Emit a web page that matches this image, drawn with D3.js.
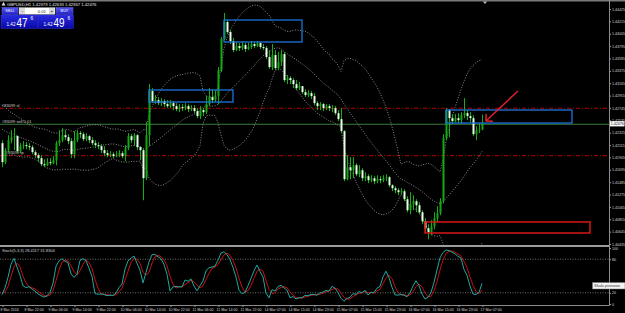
<!DOCTYPE html>
<html><head><meta charset="utf-8">
<script src="https://cdn.jsdelivr.net/npm/d3@7"></script>
<style>html,body{margin:0;padding:0;background:#000;overflow:hidden}svg{display:block}text{font-family:"Liberation Sans",Arial,sans-serif}</style>
</head><body><svg id="c" width="625" height="313"></svg>
<script>
// ---------- DATA ----------
const symbol = "GBPUSD,H1";
const headerValues = ["1.42379", "1.42633", "1.42367", "1.42476"];
const bidPrice = 1.42476, askPrice = 1.42496;
const lotSize = "0.01";
const preBars = 20; // bars scrolled off to the left, used only by the indicators
const closes = [
1.42572,1.42674,1.42708,1.42623,1.42538,1.42589,1.42504,1.42453,1.42521,1.42436,1.42368,1.42402,1.42317,1.42351,1.42283,1.42232,1.42300,1.42215,1.42181,1.42147,
1.41824,1.42028,1.42198,1.42249,1.42266,1.42011,1.42096,1.42113,1.42096,1.42079,
1.41994,1.41943,1.41892,1.41790,1.41773,1.41824,1.41807,1.41858,1.42147,1.42198,
1.42283,1.42249,1.42181,1.41960,1.42198,1.42317,1.42300,1.42215,1.42266,1.42198,
1.42147,1.42113,1.42096,1.42028,1.41977,1.41943,1.41960,1.41926,1.41943,1.41977,
1.41926,1.42062,1.42266,1.42198,1.42283,1.42079,1.42028,1.41552,1.42283,1.43031,
1.42861,1.42878,1.42827,1.42861,1.42810,1.42776,1.42827,1.42776,1.42725,1.42759,
1.42742,1.42776,1.42725,1.42742,1.42691,1.42606,1.42708,1.42674,1.42810,1.42929,
1.42878,1.42946,1.43388,1.43915,1.44204,1.44034,1.43881,1.43728,1.43796,1.43762,
1.43813,1.43745,1.43779,1.43830,1.43796,1.43847,1.43779,1.43762,1.43609,1.43439,
1.43643,1.43422,1.43524,1.43660,1.43218,1.43252,1.43218,1.43150,1.43082,1.43116,
1.43014,1.42963,1.42997,1.42946,1.42827,1.42776,1.42810,1.42742,1.42776,1.42742,
1.42742,1.42657,1.42555,1.42351,1.41535,1.41739,1.41688,1.41773,1.41620,1.41688,
1.41552,1.41586,1.41518,1.41552,1.41501,1.41535,1.41518,1.41552,1.41569,1.41433,
1.41382,1.41348,1.41314,1.41331,1.41195,1.41008,1.41110,1.41161,1.41093,1.40974,
1.40821,1.40702,1.40634,1.40736,1.40872,1.40957,1.41161,1.42232,1.42708,1.42572,
1.42521,1.42572,1.42538,1.42623,1.42657,1.42606,1.42572,1.42300,1.42368,1.42379,1.42476];
const highs = [
1.42640,1.42725,1.42776,1.42742,1.42657,1.42640,1.42606,1.42555,1.42572,1.42538,1.42470,1.42453,1.42436,1.42402,1.42385,1.42334,1.42351,1.42334,1.42266,1.42232,
1.42198,1.42062,1.42283,1.42368,1.42402,1.42283,1.42147,1.42181,1.42164,1.42147,
1.42113,1.42028,1.41977,1.41943,1.41875,1.41892,1.41892,1.41926,1.42181,1.42368,
1.42402,1.42368,1.42300,1.42232,1.42351,1.42368,1.42351,1.42334,1.42317,1.42283,
1.42249,1.42198,1.42164,1.42130,1.42096,1.42028,1.42011,1.41994,1.42011,1.42028,
1.42011,1.42113,1.42317,1.42300,1.42317,1.42300,1.42096,1.42062,1.42504,1.43150,
1.43082,1.42963,1.42929,1.42912,1.42895,1.42878,1.42878,1.42861,1.42827,1.42810,
1.42810,1.42827,1.42810,1.42793,1.42793,1.42742,1.42776,1.42742,1.42946,1.43082,
1.43065,1.43048,1.43439,1.43949,1.44357,1.44238,1.44068,1.43932,1.43864,1.43847,
1.43864,1.43847,1.43847,1.43881,1.43864,1.43881,1.43864,1.43830,1.43796,1.43728,
1.43830,1.43728,1.43694,1.43728,1.43694,1.43303,1.43286,1.43252,1.43218,1.43184,
1.43116,1.43065,1.43048,1.43031,1.42997,1.42861,1.42844,1.42827,1.42810,1.42810,
1.42793,1.42776,1.42708,1.42742,1.42368,1.41943,1.41909,1.41909,1.41807,1.41773,
1.41722,1.41654,1.41620,1.41603,1.41586,1.41603,1.41586,1.41603,1.41620,1.41586,
1.41450,1.41416,1.41382,1.41382,1.41365,1.41246,1.41314,1.41263,1.41195,1.41144,
1.41008,1.40872,1.40770,1.40838,1.40974,1.41076,1.41212,1.42300,1.42742,1.42725,
1.42640,1.42640,1.42657,1.42674,1.42912,1.42708,1.42674,1.42623,1.42436,1.42487,1.42633];
const lows = [
1.42521,1.42538,1.42640,1.42589,1.42504,1.42487,1.42453,1.42419,1.42402,1.42385,1.42334,1.42317,1.42266,1.42283,1.42232,1.42198,1.42198,1.42181,1.42130,1.42096,
1.41739,1.41790,1.41994,1.42147,1.42028,1.41977,1.41977,1.42045,1.42045,1.42028,
1.41960,1.41892,1.41824,1.41756,1.41739,1.41756,1.41773,1.41790,1.41773,1.42096,
1.42164,1.42198,1.42130,1.41892,1.41892,1.42164,1.42232,1.42181,1.42181,1.42147,
1.42113,1.42062,1.42045,1.41977,1.41926,1.41909,1.41909,1.41892,1.41909,1.41909,
1.41892,1.41841,1.42028,1.42147,1.42096,1.42028,1.41858,1.41178,1.41518,1.42096,
1.42827,1.42810,1.42793,1.42776,1.42759,1.42742,1.42742,1.42708,1.42691,1.42674,
1.42691,1.42708,1.42674,1.42691,1.42657,1.42572,1.42555,1.42606,1.42640,1.42776,
1.42827,1.42844,1.42810,1.43354,1.43898,1.44000,1.43830,1.43694,1.43711,1.43711,
1.43728,1.43694,1.43728,1.43745,1.43762,1.43779,1.43745,1.43728,1.43575,1.43405,
1.43388,1.43388,1.43388,1.43456,1.43184,1.43150,1.43150,1.43082,1.43048,1.43048,
1.42980,1.42929,1.42929,1.42895,1.42793,1.42708,1.42708,1.42691,1.42708,1.42691,
1.42674,1.42623,1.42521,1.42317,1.41501,1.41518,1.41535,1.41552,1.41586,1.41569,
1.41501,1.41501,1.41467,1.41484,1.41450,1.41467,1.41467,1.41484,1.41501,1.41399,
1.41331,1.41297,1.41263,1.41280,1.41161,1.40974,1.40940,1.41008,1.40974,1.40940,
1.40770,1.40651,1.40515,1.40583,1.40685,1.40804,1.40923,1.41127,1.42198,1.42249,
1.42470,1.42504,1.42487,1.42470,1.42572,1.42538,1.42504,1.42266,1.42198,1.42317,1.42367];
const priceTicks = [1.44425,1.44215,1.44005,1.43795,1.43585,1.43375,1.43165,1.42955,1.42745,1.42535,
                    1.42325,1.42115,1.41905,1.41695,1.41485,1.41275,1.41065,1.40855,1.40645,1.40435];
const timeLabelBars = [0,8,16,24,32,40,48,56,64,72,80,88,96,104,112,120,128,136,144,152,160];
const timeLabels = ["8 Mar 2016","8 Mar 22:00","9 Mar 06:00","9 Mar 14:00","9 Mar 22:00","10 Mar 06:00",
  "10 Mar 14:00","10 Mar 22:00","11 Mar 06:00","11 Mar 14:00","11 Mar 22:00","14 Mar 07:00","14 Mar 15:00",
  "14 Mar 23:00","15 Mar 07:00","15 Mar 15:00","15 Mar 23:00","16 Mar 07:00","16 Mar 15:00","16 Mar 23:00","17 Mar 07:00"];
const stochTicks = [100, 80, 20, 0];
const stochLevels = [80, 20];
const stochLabel = "Stoch(5,3,3) 28.4117 31.8304";
const orderLabels = ["#83099 sl", "#83099 sell 0.01", "#83099 tp"];
const orderPrices = [1.42740, 1.42468, 1.41935];
const blueZones = [[49, 77, 1.43050, 1.42846], [74, 100, 1.44238, 1.43865], [148, 190, 1.42710, 1.42489]];
const redZones = [[141, 196, 1.40809, 1.40622]];
const arrowFrom = [172, 1.43033], arrowTo = [161.3, 1.42523];
const tooltipText = "Skala pionowa";

// ---------- LAYOUT ----------
const svg = d3.select("#c");
const W = 625, axisX = 609, sepY = 246, stTop = 248, stBottom = 304, timeY = 305.5;
const AX_FONT = 3.6, FF = "Liberation Sans, Arial, sans-serif";
const N = closes.length;
const opens = closes.map((c, i) => i > 0 ? closes[i - 1] : c);
const hi = highs.map((h, i) => Math.max(h, opens[i], closes[i]));
const lo = lows.map((l, i) => Math.min(l, opens[i], closes[i]));
const vis = d3.range(preBars, N);

const x = d3.scaleLinear().domain([0, 202]).range([2, 608]);
const bx = i => x(i - preBars);
const y = d3.scaleLinear().domain([priceTicks[priceTicks.length - 1], priceTicks[0]]).range([244, 9]);
const ys = d3.scaleLinear().domain([0, 100]).range([stBottom, stTop]);

svg.append("rect").attr("width", W).attr("height", 313).attr("fill", "#000");
const defs = svg.append("defs");
defs.append("clipPath").attr("id", "mc").append("rect").attr("x", 0).attr("y", 2).attr("width", axisX).attr("height", sepY - 3);
defs.append("clipPath").attr("id", "sc").append("rect").attr("x", 0).attr("y", sepY + 1).attr("width", axisX).attr("height", timeY - sepY - 1);
const gr = defs.append("linearGradient").attr("id", "bg").attr("x1", 0).attr("y1", 0).attr("x2", 0).attr("y2", 1);
gr.append("stop").attr("offset", 0).attr("stop-color", "#2a2ae0");
gr.append("stop").attr("offset", 1).attr("stop-color", "#0808a8");
const gr2 = defs.append("linearGradient").attr("id", "bb").attr("x1", 0).attr("y1", 0).attr("x2", 0).attr("y2", 1);
gr2.append("stop").attr("offset", 0).attr("stop-color", "#5858f0");
gr2.append("stop").attr("offset", 1).attr("stop-color", "#2020c8");

// frame lines
svg.append("rect").attr("x", 0).attr("y", 0).attr("width", W).attr("height", 1.5).attr("fill", "#7a7a7a");
svg.append("line").attr("x1", axisX + 0.5).attr("x2", axisX + 0.5).attr("y1", 0).attr("y2", timeY).attr("stroke", "#8c8c8c");
svg.append("line").attr("x1", 0).attr("x2", axisX + 0.5).attr("y1", timeY).attr("y2", timeY).attr("stroke", "#8c8c8c");
svg.append("rect").attr("x", 0).attr("y", sepY - 1).attr("width", axisX).attr("height", 2).attr("fill", "#9c9c9c");

const main = svg.append("g").attr("clip-path", "url(#mc)");

// order lines
orderPrices.forEach((p, k) => {
  const isEntry = k === 1;
  main.append("line").attr("x1", 0).attr("x2", axisX).attr("y1", y(p)).attr("y2", y(p))
    .attr("stroke", isEntry ? "#3b7d3b" : "#b40000").attr("stroke-width", 1)
    .attr("stroke-dasharray", isEntry ? null : "4,2,1,2");
  main.append("text").attr("x", k === 2 ? 6 : 2).attr("y", y(p) - 1.3).text(orderLabels[k])
    .attr("font-size", 4).attr("fill", "#cfcfcf");
});

// Bollinger bands (20, 2)
const bands = vis.map(i => {
  const w = closes.slice(i - 19, i + 1), m = d3.mean(w);
  const s = Math.sqrt(d3.mean(w, v => (v - m) ** 2));
  return { i, m, u: m + 2 * s, l: m - 2 * s };
});
["u", "m", "l"].forEach(key => {
  main.append("path").datum(bands)
    .attr("d", d3.line().x(d => bx(d.i)).y(d => y(d[key])))
    .attr("fill", "none").attr("stroke", "#9a9a9a").attr("stroke-width", 0.9).attr("stroke-dasharray", "1,1.6");
});

// candles
const cg = main.append("g");
cg.selectAll("line.w").data(vis).join("line")
  .attr("x1", i => bx(i) + 0.5).attr("x2", i => bx(i) + 0.5)
  .attr("y1", i => y(hi[i])).attr("y2", i => y(lo[i]))
  .attr("stroke", "#12b012").attr("stroke-width", 1);
cg.selectAll("rect.b").data(vis).join("rect")
  .attr("x", i => bx(i) - 0.5).attr("width", 2)
  .attr("y", i => y(Math.max(opens[i], closes[i])))
  .attr("height", i => Math.max(0.8, y(Math.min(opens[i], closes[i])) - y(Math.max(opens[i], closes[i]))))
  .attr("fill", i => closes[i] >= opens[i] ? "#14a814" : "#e4ffe4");

// zones
blueZones.forEach(z => main.append("rect").attr("x", bx(z[0] + preBars)).attr("y", y(z[2]))
  .attr("width", bx(z[1] + preBars) - bx(z[0] + preBars)).attr("height", y(z[3]) - y(z[2]))
  .attr("fill", "none").attr("stroke", "#1c74dc").attr("stroke-width", 1.3));
redZones.forEach(z => main.append("rect").attr("x", bx(z[0] + preBars)).attr("y", y(z[2]))
  .attr("width", bx(z[1] + preBars) - bx(z[0] + preBars)).attr("height", y(z[3]) - y(z[2]))
  .attr("fill", "none").attr("stroke", "#d81616").attr("stroke-width", 1.5));

// arrow
{
  const x1 = bx(arrowFrom[0] + preBars), y1 = y(arrowFrom[1]);
  const x2 = bx(arrowTo[0] + preBars), y2 = y(arrowTo[1]);
  const ang = Math.atan2(y1 - y2, x1 - x2), L = 7;
  main.append("line").attr("x1", x1).attr("y1", y1).attr("x2", x2).attr("y2", y2)
    .attr("stroke", "#e4202a").attr("stroke-width", 1.5);
  [-Math.PI / 4, Math.PI / 4].forEach(da => main.append("line").attr("x1", x2).attr("y1", y2)
    .attr("x2", x2 + L * Math.cos(ang + da)).attr("y2", y2 + L * Math.sin(ang + da))
    .attr("stroke", "#e4202a").attr("stroke-width", 1.5));
}

// chart shift marker
svg.append("path").attr("d", `M${bx(N - 1) + 1},1.5 l4,0 l-2,2.5 z`).attr("fill", "#bdbdbd");

// price axis
const yAxis = d3.axisRight(y).tickValues(priceTicks).tickFormat(d3.format(".5f")).tickSize(1.5).tickPadding(1);
svg.append("g").attr("transform", `translate(${axisX + 0.5},0)`).call(yAxis)
  .call(g => g.select(".domain").remove())
  .call(g => g.selectAll("line").attr("stroke", "#9a9a9a"))
  .call(g => g.selectAll("text").attr("fill", "#d6d6d6").attr("font-size", AX_FONT).attr("font-family", FF));

// bid marker
svg.append("rect").attr("x", axisX + 1).attr("y", y(bidPrice) - 2.6).attr("width", 14.5).attr("height", 5.2).attr("fill", "#fff");
svg.append("text").attr("x", axisX + 1.8).attr("y", y(bidPrice) + 1.3).text(d3.format(".5f")(bidPrice))
  .attr("font-size", AX_FONT).attr("fill", "#000");

// stochastic (5,3,3)
const kMain = [], kSig = [];
for (let i = 0; i < N; i++) {
  if (i < 6) { kMain.push(null); continue; }
  let num = 0, den = 0;
  for (let j = i - 2; j <= i; j++) {
    const hh = d3.max(hi.slice(j - 4, j + 1)), ll = d3.min(lo.slice(j - 4, j + 1));
    num += closes[j] - ll; den += hh - ll;
  }
  kMain.push(den ? 100 * num / den : 50);
}
for (let i = 0; i < N; i++) kSig.push(i < 8 ? null : (kMain[i] + kMain[i - 1] + kMain[i - 2]) / 3);

const st = svg.append("g").attr("clip-path", "url(#sc)");
stochLevels.forEach(v => st.append("line").attr("x1", 0).attr("x2", axisX).attr("y1", ys(v)).attr("y2", ys(v))
  .attr("stroke", "#8a8a8a").attr("stroke-width", 0.8).attr("stroke-dasharray", "1,1.5"));
st.append("path").datum(vis).attr("d", d3.line().x(i => bx(i)).y(i => ys(kSig[i])))
  .attr("fill", "none").attr("stroke", "#c81010").attr("stroke-width", 1);
st.append("path").datum(vis).attr("d", d3.line().x(i => bx(i)).y(i => ys(kMain[i])))
  .attr("fill", "none").attr("stroke", "#1fa8a0").attr("stroke-width", 1);
svg.append("text").attr("x", 2).attr("y", 251.5).text(stochLabel).attr("font-size", 4).attr("fill", "#d0d0d0");

const sAxis = d3.axisRight(ys).tickValues(stochTicks).tickSize(1.5).tickPadding(1);
svg.append("g").attr("transform", `translate(${axisX + 0.5},0)`).call(sAxis)
  .call(g => g.select(".domain").remove())
  .call(g => g.selectAll("line").attr("stroke", "#9a9a9a"))
  .call(g => g.selectAll("text").attr("fill", "#d6d6d6").attr("font-size", AX_FONT).attr("font-family", FF));

// time axis
const xAxis = d3.axisBottom(x).tickValues(timeLabelBars).tickFormat((d, k) => timeLabels[k]).tickSize(1.5).tickPadding(1.2);
svg.append("g").attr("transform", `translate(0.5,${timeY})`).call(xAxis)
  .call(g => g.select(".domain").remove())
  .call(g => g.selectAll("line").attr("stroke", "#9a9a9a"))
  .call(g => g.selectAll("text").attr("text-anchor", "start").attr("dx", -2.5)
    .attr("fill", "#d6d6d6").attr("font-size", AX_FONT).attr("font-family", FF));

// tooltip
svg.append("rect").attr("x", 592.5).attr("y", 282.5).attr("width", 32.5).attr("height", 6.5)
  .attr("fill", "#f2f2f2").attr("stroke", "#707070").attr("stroke-width", 0.5);
svg.append("text").attr("x", 594).attr("y", 287.2).text(tooltipText).attr("font-size", 4).attr("fill", "#404040");

// header
svg.append("path").attr("d", "M1.5,5.5 L3.5,2 L5.5,5.5 Z").attr("fill", "#e0e0e0");
svg.append("text").attr("x", 7).attr("y", 5.6).text(symbol + "  " + headerValues.join(" "))
  .attr("font-size", 4.2).attr("fill", "#e8e8e8");

// one-click trading panel
const pan = svg.append("g");
pan.append("rect").attr("x", 2).attr("y", 7.5).attr("width", 16).attr("height", 7).attr("fill", "url(#bb)").attr("stroke", "#6a6aff").attr("stroke-width", 0.4);
pan.append("rect").attr("x", 56).attr("y", 7.5).attr("width", 17).attr("height", 7).attr("fill", "url(#bb)").attr("stroke", "#6a6aff").attr("stroke-width", 0.4);
pan.append("text").attr("x", 10).attr("y", 12.3).attr("text-anchor", "middle").text("SELL").attr("font-size", 3.8).attr("fill", "#fff");
pan.append("text").attr("x", 64.5).attr("y", 12.3).attr("text-anchor", "middle").text("BUY").attr("font-size", 3.8).attr("fill", "#fff");
pan.append("rect").attr("x", 19).attr("y", 7.5).attr("width", 36).attr("height", 7).attr("fill", "#fff").attr("stroke", "#909090").attr("stroke-width", 0.4);
pan.append("rect").attr("x", 19.5).attr("y", 8).attr("width", 5.5).attr("height", 6).attr("fill", "#d8d8d8");
pan.append("rect").attr("x", 49).attr("y", 8).attr("width", 5.5).attr("height", 6).attr("fill", "#d8d8d8");
pan.append("text").attr("x", 22.2).attr("y", 12.5).attr("text-anchor", "middle").text("-").attr("font-size", 4.5).attr("fill", "#333");
pan.append("text").attr("x", 51.8).attr("y", 12.6).attr("text-anchor", "middle").text("+").attr("font-size", 4.5).attr("fill", "#333");
pan.append("text").attr("x", 46).attr("y", 12.6).attr("text-anchor", "end").text(lotSize).attr("font-size", 4.3).attr("fill", "#222");
[[1, 36.5, bidPrice], [38, 35.5, askPrice]].forEach(([bx0, bw, p]) => {
  const s = d3.format(".5f")(p);
  pan.append("rect").attr("x", bx0).attr("y", 15).attr("width", bw).attr("height", 13.5).attr("fill", "url(#bg)").attr("stroke", "#3a3af0").attr("stroke-width", 0.4);
  pan.append("text").attr("x", bx0 + 5.5).attr("y", 26).text(s.slice(0, 4)).attr("font-size", 4.6).attr("fill", "#fff");
  pan.append("text").attr("x", bx0 + 15.5).attr("y", 27.2).text(s.slice(4, 6)).attr("font-size", 13)
    .attr("textLength", 11).attr("lengthAdjust", "spacingAndGlyphs").attr("fill", "#fff");
  pan.append("text").attr("x", bx0 + 29.5).attr("y", 19.8).text(s.slice(6)).attr("font-size", 4.8).attr("fill", "#fff");
});
</script></body></html>
